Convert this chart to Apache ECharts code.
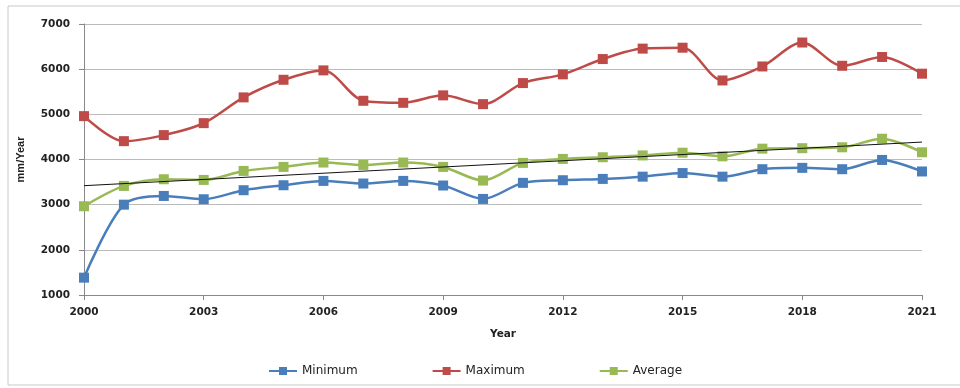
<!DOCTYPE html>
<html><head><meta charset="utf-8">
<script src="https://cdn.jsdelivr.net/npm/echarts@6/dist/echarts.min.js"></script>
<style>html,body{margin:0;padding:0;background:#fff}#c{width:960px;height:388px}</style>
</head><body><div id="c"></div>
<script>
const years = ['2000','2001','2002','2003','2004','2005','2006','2007','2008','2009','2010','2011','2012','2013','2014','2015','2016','2017','2018','2019','2020','2021'];
const minimum = [1384,3000,3193,3120,3320,3430,3526,3468,3526,3424,3127,3483,3541,3570,3620,3700,3620,3785,3815,3785,3990,3735];
const maximum = [4960,4406,4540,4805,5375,5765,5973,5300,5255,5420,5226,5692,5885,6224,6455,6475,5750,6060,6590,6075,6270,5900];
const average = [2965,3415,3563,3548,3747,3836,3933,3880,3933,3836,3534,3925,4013,4050,4090,4150,4070,4240,4250,4270,4460,4160];
const yTicks = [1000,2000,3000,4000,5000,6000,7000];

// Linear trend of the average series (least squares)
const n = average.length;
const mx = (n - 1) / 2;
const my = average.reduce((a, b) => a + b, 0) / n;
let sxy = 0, sxx = 0;
average.forEach((v, i) => { sxy += (i - mx) * (v - my); sxx += (i - mx) * (i - mx); });
const slope = sxy / sxx;
const trend = average.map((v, i) => (i === 0 || i === n - 1) ? +(my + slope * (i - mx)).toFixed(1) : null);

const chart = echarts.init(document.getElementById('c'));
const lbl = { fontFamily: 'DejaVu Sans', fontWeight: 'bold', fontSize: 10.5, color: '#222' };
function s(name, data, color) {
  return { name, type: 'line', data, smooth: 0.3, symbol: 'rect', symbolSize: 10,
    lineStyle: { color, width: 2.5 }, itemStyle: { color }, z: 3 };
}
chart.setOption({
  animation: false,
  graphic: [{ type: 'polyline', shape: { points: [[962, 6], [8, 6], [8, 385], [962, 385]] },
    style: { stroke: '#c8c8c8', fill: null, lineWidth: 1 }, silent: true }],
  grid: { left: 84, right: 38, top: 24, bottom: 93 },
  legend: { bottom: 6, left: 263, itemGap: 74, itemWidth: 28, itemHeight: 10,
    textStyle: { fontFamily: 'DejaVu Sans', fontSize: 12, color: '#222' },
    data: ['Minimum', 'Maximum', 'Average'] },
  xAxis: { type: 'category', data: years, boundaryGap: false,
    name: 'Year', nameLocation: 'middle', nameGap: 34,
    nameTextStyle: { fontFamily: 'DejaVu Sans', fontWeight: 'bold', fontSize: 10.5, color: '#222' },
    axisLine: { lineStyle: { color: '#888' } },
    axisTick: { interval: 2, alignWithLabel: true, length: 5, lineStyle: { color: '#888' } },
    axisLabel: Object.assign({ interval: 2, margin: 12 }, lbl) },
  yAxis: { type: 'value', min: 1000, max: 7000, interval: 1000,
    name: 'mm/Year', nameLocation: 'middle', nameGap: 58, nameRotate: 90,
    nameTextStyle: { fontFamily: 'Liberation Sans', fontWeight: 'bold', fontSize: 11, color: '#222' },
    axisLine: { show: true, lineStyle: { color: '#888' } },
    axisTick: { show: true, length: 5, lineStyle: { color: '#888' } },
    splitLine: { lineStyle: { color: '#bbb' } },
    axisLabel: Object.assign({ margin: 14, formatter: v => yTicks.includes(v) ? String(v) : '' }, lbl) },
  series: [
    s('Minimum', minimum, '#4A7EBB'),
    s('Maximum', maximum, '#BE4B48'),
    s('Average', average, '#98B954'),
    { name: 'Trend', type: 'line', data: trend, connectNulls: true, symbol: 'none',
      lineStyle: { color: '#111', width: 1 }, z: 4, silent: true }
  ]
});
</script></body></html>
